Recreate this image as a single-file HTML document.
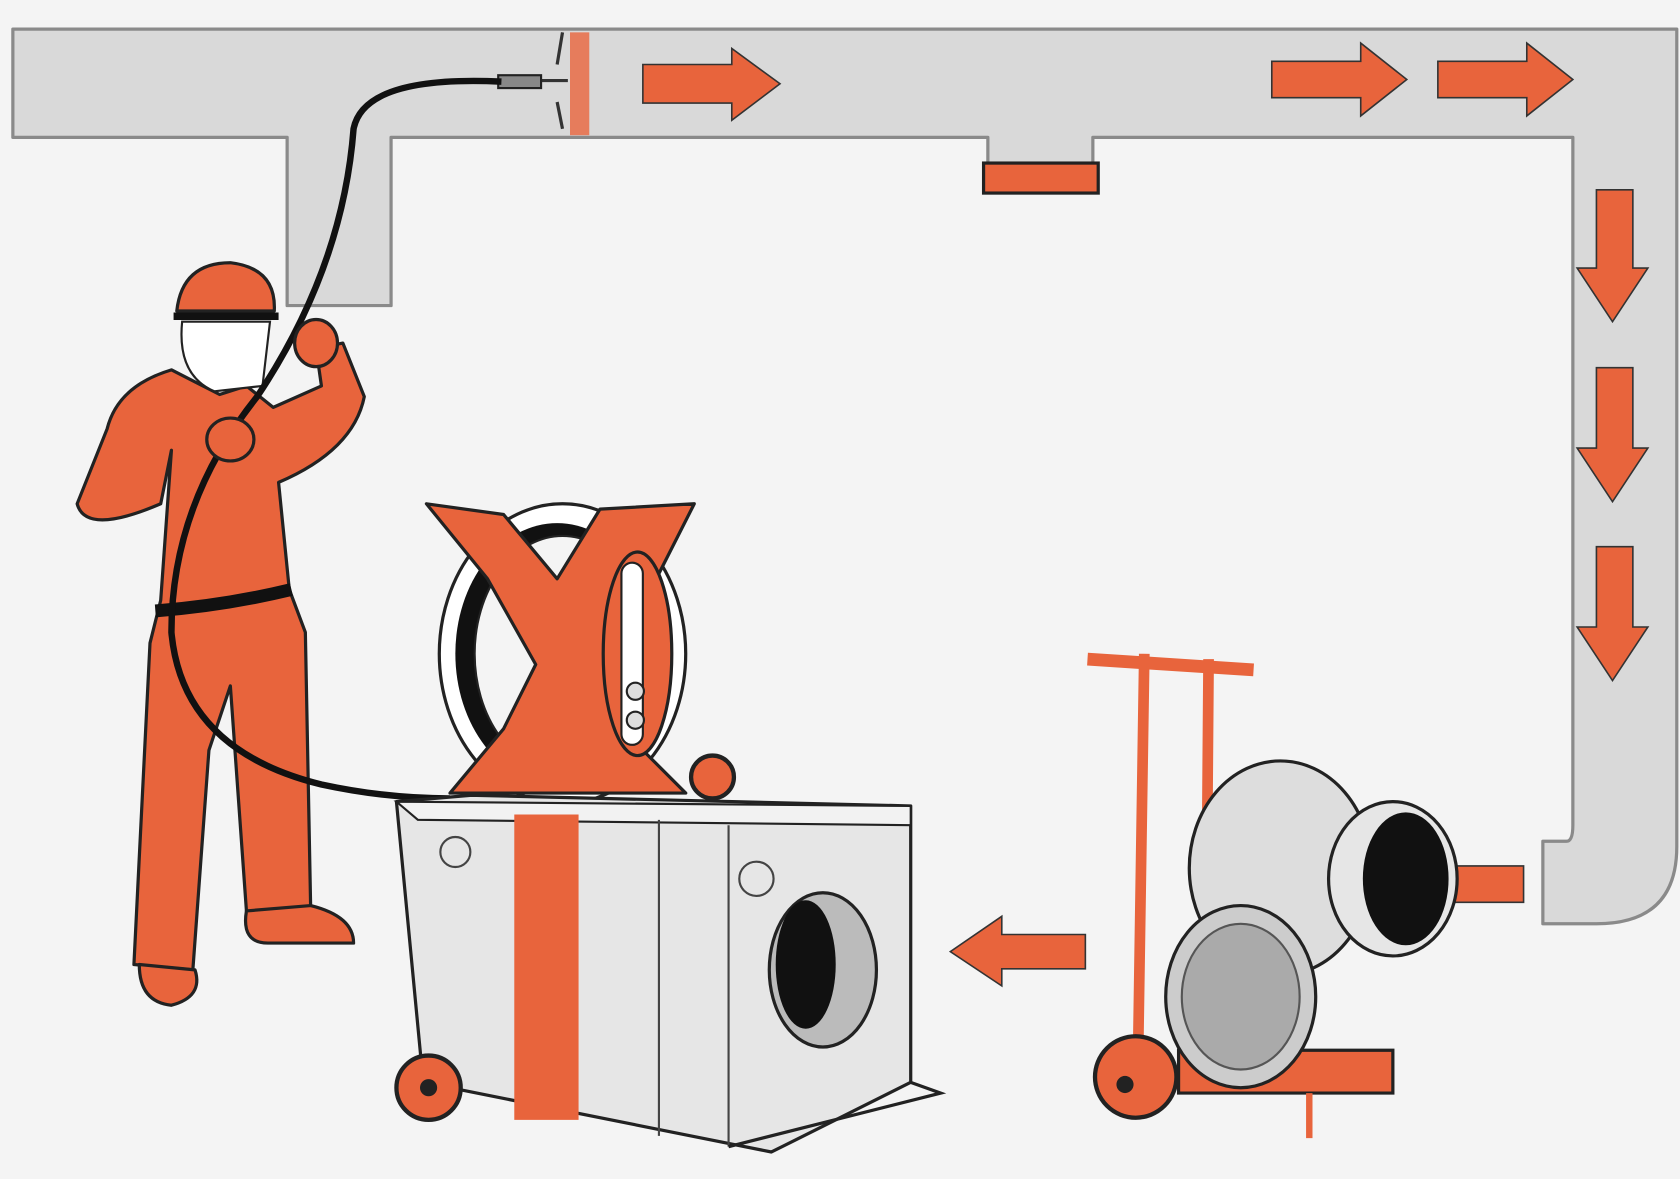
<!DOCTYPE html>
<html><head><meta charset="utf-8"><style>
html,body{margin:0;padding:0;background:#f4f4f4;}
svg{display:block;}
</style></head><body>
<svg width="1680" height="1179" viewBox="0 0 1568 1100" xmlns="http://www.w3.org/2000/svg">
<rect width="1568" height="1100" fill="#f4f4f4"/>
<g fill="#d9d9d9" stroke="#8a8a8a" stroke-width="3" stroke-linejoin="round">
<path d="M12 27 H1565 V790 Q1565 862 1490 862 H1440 V785 H1462 Q1468 785 1468 770 V128 H1020 V152 H922 V128 H365 V285 H268 V128 H12 Z"/>
</g>
<rect x="918" y="152" width="107" height="28" fill="#e8643c" stroke="#222" stroke-width="3"/>
<rect x="532" y="30" width="18" height="96" fill="#e8643c" opacity="0.8"/>
<g fill="#e8643c" stroke="#333" stroke-width="1.5">
<path d="M600 60 H683 V45 L728 78 L683 112 V96 H600 Z"/>
<path d="M1187 57 H1270 V40 L1313 74 L1270 108 V91 H1187 Z"/>
<path d="M1342 57 H1425 V40 L1468 74 L1425 108 V91 H1342 Z"/>
<path d="M1490 177 H1524 V250 H1538 L1505 300 L1472 250 H1490 Z"/>
<path d="M1490 343 H1524 V418 H1538 L1505 468 L1472 418 H1490 Z"/>
<path d="M1490 510 H1524 V585 H1538 L1505 635 L1472 585 H1490 Z"/>
<path d="M1422 808 H1345 V790 L1300 825 L1345 860 V842 H1422 Z"/>
<path d="M1013 872 H935 V855 L887 888 L935 920 V904 H1013 Z"/>
</g>
<!-- nozzle -->
<path d="M465 75 H530 M525 30 L520 60 M525 120 L520 95" stroke="#333" stroke-width="3" fill="none"/>
<rect x="465" y="70" width="40" height="12" fill="#888" stroke="#222" stroke-width="2"/>
<!-- worker -->
<g fill="#e8643c" stroke="#222" stroke-width="3" stroke-linejoin="round">
<path d="M160 345 Q110 360 100 400 L72 470 Q80 500 150 470 L160 420 L150 560 L140 600 L125 900 L180 905 L195 700 L215 640 L230 850 L290 850 L285 590 L270 550 L260 450 Q330 420 340 370 L320 320 L295 325 L300 360 L255 380 L230 360 L205 368 Z"/>
<path d="M130 900 Q130 935 160 938 Q190 930 182 905 Z"/>
<path d="M230 850 Q225 880 250 880 L330 880 Q330 855 290 845 Z"/>
<path d="M165 290 Q170 245 215 245 Q258 250 256 290 Z"/>
</g>
<path d="M162 295 H260" stroke="#111" stroke-width="7"/>
<path d="M170 300 Q165 350 200 365 L245 360 L252 300 Z" fill="#fff" stroke="#222" stroke-width="2"/>
<path d="M145 570 Q210 565 272 550" stroke="#111" stroke-width="12" fill="none"/>
<!-- hose (in front of worker) -->
<path d="M468 76 Q340 70 330 120 Q320 250 240 370 Q160 470 160 590 Q170 700 300 732 Q360 745 420 745" stroke="#111" stroke-width="6" fill="none"/>
<ellipse cx="295" cy="320" rx="20" ry="22" fill="#e8643c" stroke="#222" stroke-width="3"/>
<ellipse cx="215" cy="410" rx="22" ry="20" fill="#e8643c" stroke="#222" stroke-width="3"/>
<!-- reel -->
<ellipse cx="525" cy="610" rx="115" ry="140" fill="#fff" stroke="#222" stroke-width="3"/>
<ellipse cx="520" cy="610" rx="95" ry="122" fill="#111"/>
<ellipse cx="525" cy="610" rx="82" ry="110" fill="#f4f4f4" stroke="#222" stroke-width="2"/>
<g fill="#e8643c" stroke="#222" stroke-width="3" stroke-linejoin="round">
<path d="M398 470 L470 480 L520 540 L560 475 L648 470 L610 545 L600 700 L640 740 L420 740 L470 680 L500 620 L455 540 Z"/>
<ellipse cx="595" cy="610" rx="32" ry="95"/>
</g>
<rect x="580" y="525" width="20" height="170" rx="10" fill="#fff" stroke="#222" stroke-width="2"/>
<circle cx="593" cy="645" r="8" fill="#ddd" stroke="#222" stroke-width="2"/>
<circle cx="593" cy="672" r="8" fill="#ddd" stroke="#222" stroke-width="2"/>
<circle cx="665" cy="725" r="20" fill="#e8643c" stroke="#222" stroke-width="4"/>
<!-- box -->
<path d="M370 748 L440 742 L850 752 L850 1010 L720 1075 L395 1010 Z" fill="#e6e6e6" stroke="#222" stroke-width="3" stroke-linejoin="round"/>
<path d="M370 748 L850 752 L850 770 L390 765 Z" fill="#f2f2f2" stroke="#222" stroke-width="2"/>
<path d="M615 765 V1060 M680 770 V1070" stroke="#444" stroke-width="2"/>
<path d="M680 1070 L878 1020 L850 1010" fill="none" stroke="#222" stroke-width="3"/>
<path d="M480 760 H540 V1045 H480 Z" fill="#e8643c"/>
<ellipse cx="768" cy="905" rx="50" ry="72" fill="#bbb" stroke="#222" stroke-width="3"/>
<ellipse cx="752" cy="900" rx="28" ry="60" fill="#111"/>
<circle cx="706" cy="820" r="16" fill="none" stroke="#444" stroke-width="2"/>
<circle cx="425" cy="795" r="14" fill="none" stroke="#444" stroke-width="2"/>
<circle cx="400" cy="1015" r="30" fill="#e8643c" stroke="#222" stroke-width="4"/>
<circle cx="400" cy="1015" r="8" fill="#222"/>
<!-- blower -->
<g stroke="#222" stroke-width="3" fill="#e8643c">
<path d="M1015 615 L1170 625" stroke-width="12" stroke="#e8643c"/>
<path d="M1068 610 L1062 1000 M1128 615 L1125 1000" stroke-width="10" stroke="#e8643c"/>
</g>
<path d="M1100 980 H1300 V1020 H1100 Z" fill="#e8643c" stroke="#222" stroke-width="3"/>
<ellipse cx="1195" cy="810" rx="85" ry="100" fill="#ddd" stroke="#222" stroke-width="3"/>
<ellipse cx="1300" cy="820" rx="60" ry="72" fill="#e6e6e6" stroke="#222" stroke-width="3"/>
<ellipse cx="1312" cy="820" rx="40" ry="62" fill="#111"/>
<ellipse cx="1158" cy="930" rx="70" ry="85" fill="#ccc" stroke="#222" stroke-width="3"/>
<ellipse cx="1158" cy="930" rx="55" ry="68" fill="#aaa" stroke="#555" stroke-width="2"/>
<circle cx="1060" cy="1005" r="38" fill="#e8643c" stroke="#222" stroke-width="4"/>
<circle cx="1050" cy="1012" r="8" fill="#222"/>
<path d="M1222 1020 V1062" stroke="#e8643c" stroke-width="6"/>
</svg>
</body></html>
